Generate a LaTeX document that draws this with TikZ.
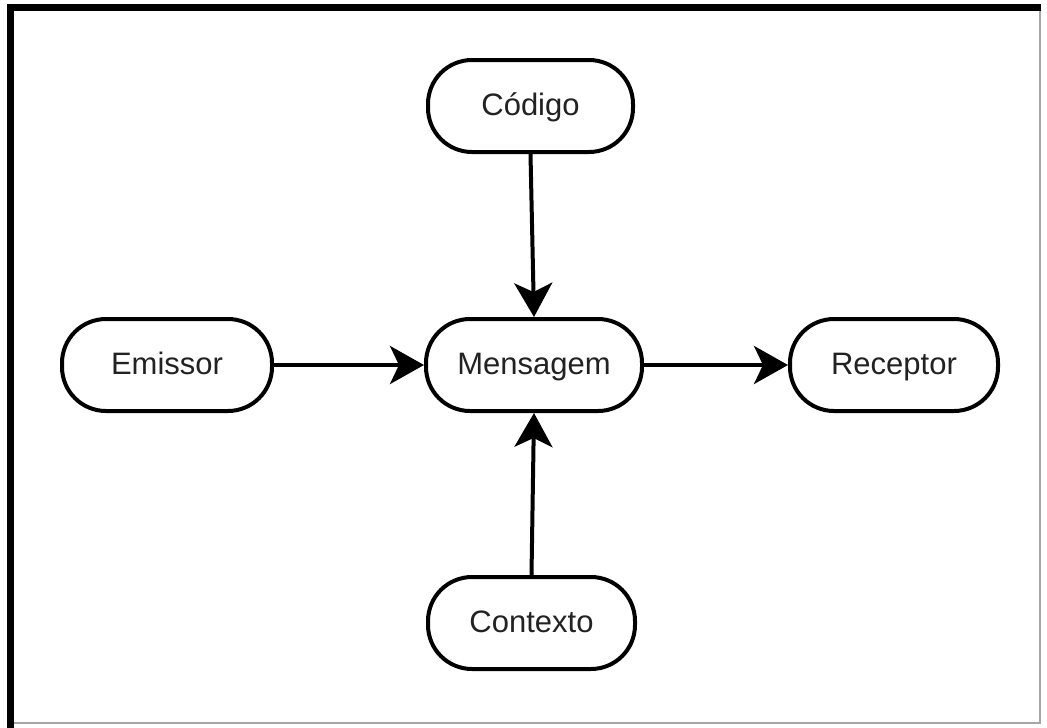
\documentclass[tikz,border=0pt]{standalone}
\usepackage{fontspec}
\setmainfont{Liberation Sans}
\usetikzlibrary{arrows.meta}
\definecolor{txt}{HTML}{222222}
\begin{document}
\begin{tikzpicture}[x=1pt,y=-1pt,
  term/.style={draw=black,line width=4pt,rounded corners=44pt,fill=white,
    minimum width=#1,minimum height=92pt,inner sep=0pt,text=txt,
    text height=23pt,text depth=5pt,
    font=\fontsize{31}{34}\selectfont},
  term/.default=208pt,
  conn/.style={line width=4pt,-{Stealth[length=34pt,width=38pt,inset=9pt]}}]
\useasboundingbox (0,0) rectangle (1047,728);
\fill[white] (0,0) rectangle (1047,728);
% frame
\draw[black!35,line width=1.5pt] (10,723) -- (1040,723) -- (1040,8);
\draw[black,line width=7pt] (10.5,728) -- (10.5,7.5) -- (1041,7.5);
% nodes
\node[term=205pt] (cod) at (530.5,106) {Código};
\node[term=210pt] (emi) at (167,365) {Emissor};
\node[term=216pt] (men) at (534,365) {Mensagem};
\node[term=208pt] (rec) at (894,365) {Receptor};
\node[term=207pt] (ctx) at (531.5,623) {Contexto};
% connectors
\draw[conn] (cod.south) -- (men.north);
\draw[conn] (ctx.north) -- (men.south);
\draw[conn] (emi.east) -- (men.west);
\draw[conn] (men.east) -- (rec.west);
\end{tikzpicture}
\end{document}
